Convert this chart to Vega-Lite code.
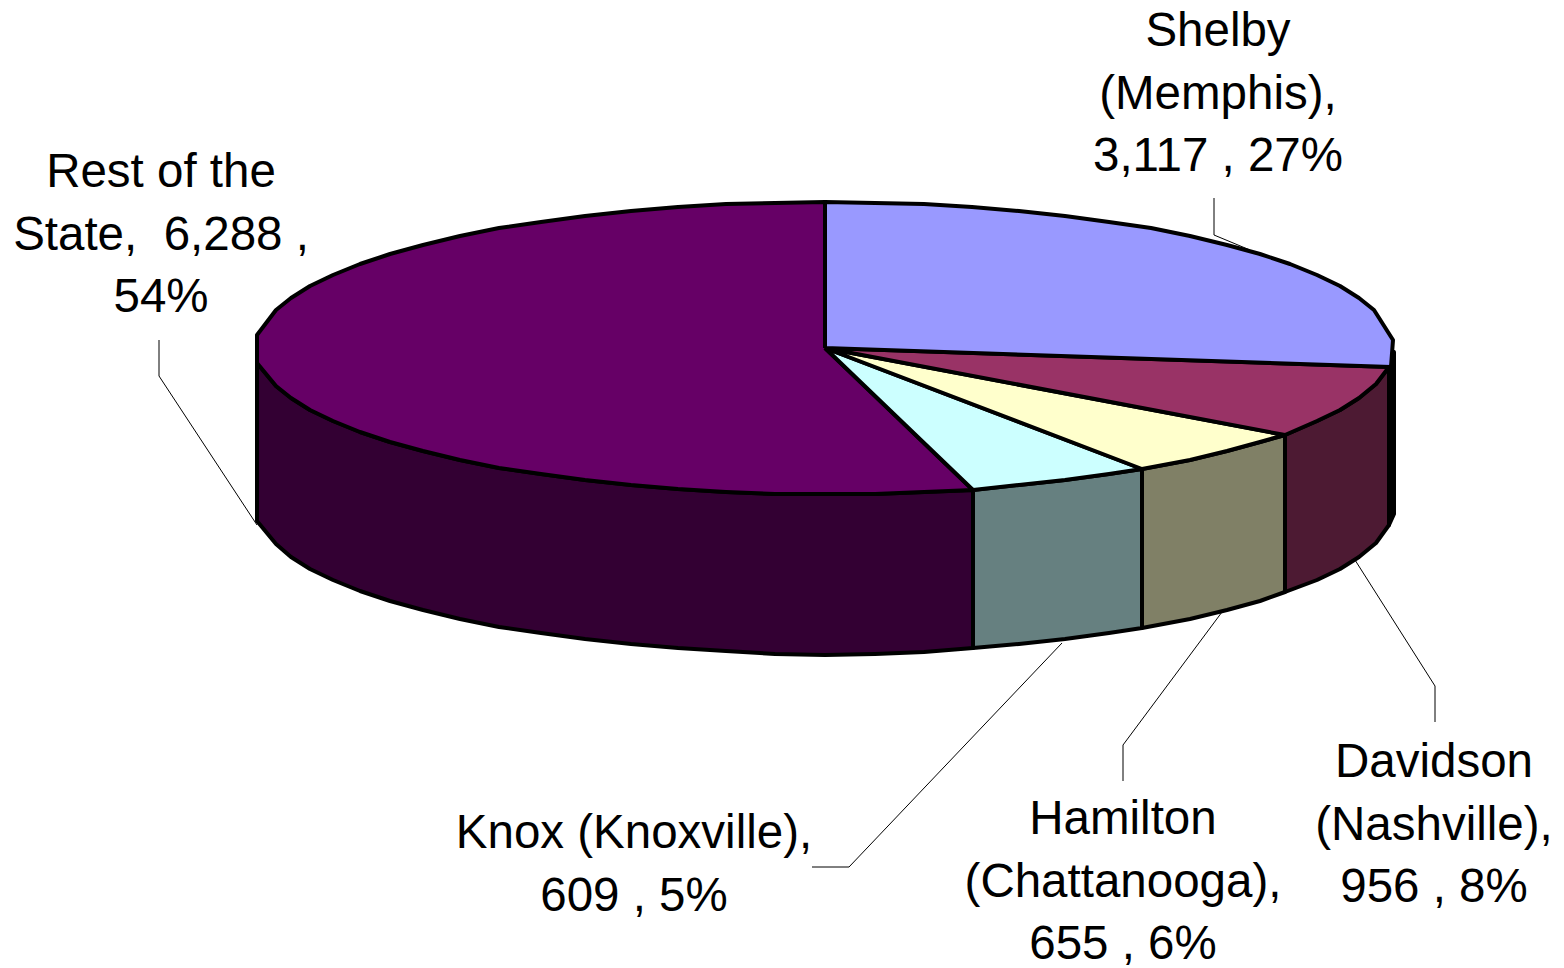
{"$schema":"https://vega.github.io/schema/vega-lite/v6.json","autosize":{"type":"none","contains":"padding"},"width":1564,"height":968,"padding":0,"background":"white","view":{"stroke":null},
"datasets":{"shapes":[
{"face":"Rest side","n":1,"x":257,"y":349},{"face":"Rest side","n":2,"x":257,"y":363},{"face":"Rest side","n":3,"x":276,"y":386},{"face":"Rest side","n":4,"x":291,"y":398},{"face":"Rest side","n":5,"x":310,"y":410},{"face":"Rest side","n":6,"x":333,"y":421},{"face":"Rest side","n":7,"x":360,"y":432},{"face":"Rest side","n":8,"x":390,"y":442},{"face":"Rest side","n":9,"x":423,"y":451},{"face":"Rest side","n":10,"x":460,"y":460},{"face":"Rest side","n":11,"x":499,"y":468},{"face":"Rest side","n":12,"x":541,"y":474},{"face":"Rest side","n":13,"x":585,"y":480},{"face":"Rest side","n":14,"x":631,"y":485},{"face":"Rest side","n":15,"x":678,"y":489},{"face":"Rest side","n":16,"x":726,"y":492},{"face":"Rest side","n":17,"x":775,"y":494},{"face":"Rest side","n":18,"x":825,"y":494},{"face":"Rest side","n":19,"x":875,"y":494},{"face":"Rest side","n":20,"x":924,"y":492},{"face":"Rest side","n":21,"x":973,"y":490},{"face":"Rest side","n":22,"x":973,"y":648},{"face":"Rest side","n":23,"x":924,"y":652},{"face":"Rest side","n":24,"x":875,"y":654},{"face":"Rest side","n":25,"x":825,"y":655},{"face":"Rest side","n":26,"x":775,"y":654},{"face":"Rest side","n":27,"x":726,"y":651},{"face":"Rest side","n":28,"x":678,"y":648},{"face":"Rest side","n":29,"x":631,"y":644},{"face":"Rest side","n":30,"x":585,"y":639},{"face":"Rest side","n":31,"x":541,"y":633},{"face":"Rest side","n":32,"x":499,"y":627},{"face":"Rest side","n":33,"x":460,"y":619},{"face":"Rest side","n":34,"x":423,"y":610},{"face":"Rest side","n":35,"x":390,"y":601},{"face":"Rest side","n":36,"x":360,"y":591},{"face":"Rest side","n":37,"x":333,"y":580},{"face":"Rest side","n":38,"x":310,"y":569},{"face":"Rest side","n":39,"x":291,"y":557},{"face":"Rest side","n":40,"x":276,"y":544},{"face":"Rest side","n":41,"x":257,"y":521},{"face":"Rest side","n":42,"x":257,"y":349},
{"face":"Knox side","n":1,"x":973,"y":490},{"face":"Knox side","n":2,"x":1019,"y":485},{"face":"Knox side","n":3,"x":1065,"y":480},{"face":"Knox side","n":4,"x":1109,"y":474},{"face":"Knox side","n":5,"x":1142,"y":469},{"face":"Knox side","n":6,"x":1142,"y":628},{"face":"Knox side","n":7,"x":1109,"y":633},{"face":"Knox side","n":8,"x":1065,"y":639},{"face":"Knox side","n":9,"x":1019,"y":644},{"face":"Knox side","n":10,"x":973,"y":648},{"face":"Knox side","n":11,"x":973,"y":490},
{"face":"Hamilton side","n":1,"x":1142,"y":469},{"face":"Hamilton side","n":2,"x":1190,"y":460},{"face":"Hamilton side","n":3,"x":1227,"y":451},{"face":"Hamilton side","n":4,"x":1260,"y":442},{"face":"Hamilton side","n":5,"x":1285,"y":435},{"face":"Hamilton side","n":6,"x":1285,"y":592},{"face":"Hamilton side","n":7,"x":1260,"y":601},{"face":"Hamilton side","n":8,"x":1227,"y":610},{"face":"Hamilton side","n":9,"x":1190,"y":619},{"face":"Hamilton side","n":10,"x":1142,"y":628},{"face":"Hamilton side","n":11,"x":1142,"y":469},
{"face":"Davidson side","n":1,"x":1285,"y":435},{"face":"Davidson side","n":2,"x":1317,"y":421},{"face":"Davidson side","n":3,"x":1340,"y":410},{"face":"Davidson side","n":4,"x":1359,"y":398},{"face":"Davidson side","n":5,"x":1376,"y":384},{"face":"Davidson side","n":6,"x":1389,"y":367},{"face":"Davidson side","n":7,"x":1389,"y":525},{"face":"Davidson side","n":8,"x":1376,"y":543},{"face":"Davidson side","n":9,"x":1359,"y":557},{"face":"Davidson side","n":10,"x":1340,"y":569},{"face":"Davidson side","n":11,"x":1317,"y":580},{"face":"Davidson side","n":12,"x":1285,"y":592},{"face":"Davidson side","n":13,"x":1285,"y":435},
{"face":"Shelby side","n":1,"x":1389,"y":367},{"face":"Shelby side","n":2,"x":1394,"y":352},{"face":"Shelby side","n":3,"x":1394,"y":514},{"face":"Shelby side","n":4,"x":1389,"y":525},{"face":"Shelby side","n":5,"x":1389,"y":367},
{"face":"Rest top","n":1,"x":825,"y":348},{"face":"Rest top","n":2,"x":973,"y":490},{"face":"Rest top","n":3,"x":924,"y":492},{"face":"Rest top","n":4,"x":875,"y":494},{"face":"Rest top","n":5,"x":825,"y":494},{"face":"Rest top","n":6,"x":775,"y":494},{"face":"Rest top","n":7,"x":726,"y":492},{"face":"Rest top","n":8,"x":678,"y":489},{"face":"Rest top","n":9,"x":631,"y":485},{"face":"Rest top","n":10,"x":585,"y":480},{"face":"Rest top","n":11,"x":541,"y":474},{"face":"Rest top","n":12,"x":499,"y":468},{"face":"Rest top","n":13,"x":460,"y":460},{"face":"Rest top","n":14,"x":423,"y":451},{"face":"Rest top","n":15,"x":390,"y":442},{"face":"Rest top","n":16,"x":360,"y":432},{"face":"Rest top","n":17,"x":333,"y":421},{"face":"Rest top","n":18,"x":310,"y":410},{"face":"Rest top","n":19,"x":291,"y":398},{"face":"Rest top","n":20,"x":276,"y":386},{"face":"Rest top","n":21,"x":257,"y":363},{"face":"Rest top","n":22,"x":257,"y":335},{"face":"Rest top","n":23,"x":276,"y":310},{"face":"Rest top","n":24,"x":291,"y":298},{"face":"Rest top","n":25,"x":310,"y":286},{"face":"Rest top","n":26,"x":333,"y":275},{"face":"Rest top","n":27,"x":360,"y":264},{"face":"Rest top","n":28,"x":390,"y":254},{"face":"Rest top","n":29,"x":423,"y":245},{"face":"Rest top","n":30,"x":460,"y":236},{"face":"Rest top","n":31,"x":499,"y":228},{"face":"Rest top","n":32,"x":541,"y":222},{"face":"Rest top","n":33,"x":585,"y":216},{"face":"Rest top","n":34,"x":631,"y":211},{"face":"Rest top","n":35,"x":678,"y":207},{"face":"Rest top","n":36,"x":726,"y":204},{"face":"Rest top","n":37,"x":775,"y":203},{"face":"Rest top","n":38,"x":825,"y":202},{"face":"Rest top","n":39,"x":825,"y":348},
{"face":"Knox top","n":1,"x":825,"y":348},{"face":"Knox top","n":2,"x":1142,"y":469},{"face":"Knox top","n":3,"x":1109,"y":474},{"face":"Knox top","n":4,"x":1065,"y":480},{"face":"Knox top","n":5,"x":1019,"y":485},{"face":"Knox top","n":6,"x":973,"y":490},{"face":"Knox top","n":7,"x":825,"y":348},
{"face":"Hamilton top","n":1,"x":825,"y":348},{"face":"Hamilton top","n":2,"x":1285,"y":435},{"face":"Hamilton top","n":3,"x":1260,"y":442},{"face":"Hamilton top","n":4,"x":1227,"y":451},{"face":"Hamilton top","n":5,"x":1190,"y":460},{"face":"Hamilton top","n":6,"x":1142,"y":469},{"face":"Hamilton top","n":7,"x":825,"y":348},
{"face":"Davidson top","n":1,"x":825,"y":348},{"face":"Davidson top","n":2,"x":1389,"y":367},{"face":"Davidson top","n":3,"x":1376,"y":384},{"face":"Davidson top","n":4,"x":1359,"y":398},{"face":"Davidson top","n":5,"x":1340,"y":410},{"face":"Davidson top","n":6,"x":1317,"y":421},{"face":"Davidson top","n":7,"x":1285,"y":435},{"face":"Davidson top","n":8,"x":825,"y":348},
{"face":"Shelby top","n":1,"x":825,"y":348},{"face":"Shelby top","n":2,"x":825,"y":202},{"face":"Shelby top","n":3,"x":875,"y":203},{"face":"Shelby top","n":4,"x":924,"y":204},{"face":"Shelby top","n":5,"x":972,"y":207},{"face":"Shelby top","n":6,"x":1019,"y":211},{"face":"Shelby top","n":7,"x":1065,"y":216},{"face":"Shelby top","n":8,"x":1109,"y":222},{"face":"Shelby top","n":9,"x":1151,"y":228},{"face":"Shelby top","n":10,"x":1190,"y":236},{"face":"Shelby top","n":11,"x":1227,"y":245},{"face":"Shelby top","n":12,"x":1260,"y":254},{"face":"Shelby top","n":13,"x":1290,"y":264},{"face":"Shelby top","n":14,"x":1317,"y":275},{"face":"Shelby top","n":15,"x":1340,"y":286},{"face":"Shelby top","n":16,"x":1359,"y":298},{"face":"Shelby top","n":17,"x":1374,"y":310},{"face":"Shelby top","n":18,"x":1393,"y":340},{"face":"Shelby top","n":19,"x":1391,"y":367},{"face":"Shelby top","n":20,"x":825,"y":348}
],
"leaders":[
{"county":"Shelby","n":1,"x":1214,"y":198},{"county":"Shelby","n":2,"x":1214,"y":235},{"county":"Shelby","n":3,"x":1250,"y":250},
{"county":"Rest of the State","n":1,"x":159,"y":340},{"county":"Rest of the State","n":2,"x":159,"y":376},{"county":"Rest of the State","n":3,"x":257,"y":525},
{"county":"Davidson","n":1,"x":1435,"y":722},{"county":"Davidson","n":2,"x":1435,"y":686},{"county":"Davidson","n":3,"x":1355,"y":560},
{"county":"Hamilton","n":1,"x":1123,"y":781},{"county":"Hamilton","n":2,"x":1123,"y":745},{"county":"Hamilton","n":3,"x":1222,"y":612},
{"county":"Knox","n":1,"x":812,"y":867},{"county":"Knox","n":2,"x":849,"y":867},{"county":"Knox","n":3,"x":1062,"y":643}
],
"labels":[
{"county":"Shelby","cases":3117,"share":27,"label":"Shelby\n(Memphis),\n3,117 , 27%","x":1218,"y":46},
{"county":"Davidson","cases":956,"share":8,"label":"Davidson\n(Nashville),\n956 , 8%","x":1434,"y":777},
{"county":"Hamilton","cases":655,"share":6,"label":"Hamilton\n(Chattanooga),\n655 , 6%","x":1123,"y":834},
{"county":"Knox","cases":609,"share":5,"label":"Knox (Knoxville),\n609 , 5%","x":634,"y":848},
{"county":"Rest of the State","cases":6288,"share":54,"label":"Rest of the\nState,\u00a0 6,288 ,\n54%","x":161,"y":187}
]},
"layer":[
{"data":{"name":"shapes"},"mark":{"type":"line","filled":true,"stroke":"black","strokeWidth":4,"strokeJoin":"round","clip":false},
"encoding":{"x":{"field":"x","type":"quantitative","scale":{"domain":[0,1564],"nice":false,"zero":false},"axis":null},"y":{"field":"y","type":"quantitative","scale":{"domain":[968,0],"nice":false,"zero":false},"axis":null},"order":{"field":"n","type":"quantitative"},
"color":{"field":"face","type":"nominal","legend":null,"scale":{"domain":["Rest side","Knox side","Hamilton side","Davidson side","Shelby side","Rest top","Knox top","Hamilton top","Davidson top","Shelby top"],"range":["#330033","#668080","#808066","#4D1A33","#000000","#660066","#CCFFFF","#FFFFCC","#993366","#9999FF"]}}}},
{"data":{"name":"leaders"},"mark":{"type":"line","color":"black","strokeWidth":1},
"encoding":{"x":{"field":"x","type":"quantitative","scale":{"domain":[0,1564],"nice":false,"zero":false},"axis":null},"y":{"field":"y","type":"quantitative","scale":{"domain":[968,0],"nice":false,"zero":false},"axis":null},"order":{"field":"n","type":"quantitative"},"detail":{"field":"county","type":"nominal"}}},
{"data":{"name":"labels"},"mark":{"type":"text","font":"Liberation Sans","fontSize":47.5,"lineBreak":"\n","lineHeight":62.5,"align":"center","baseline":"alphabetic","color":"black"},
"encoding":{"x":{"field":"x","type":"quantitative","scale":{"domain":[0,1564],"nice":false,"zero":false},"axis":null},"y":{"field":"y","type":"quantitative","scale":{"domain":[968,0],"nice":false,"zero":false},"axis":null},"text":{"field":"label","type":"nominal"}}}
]}
